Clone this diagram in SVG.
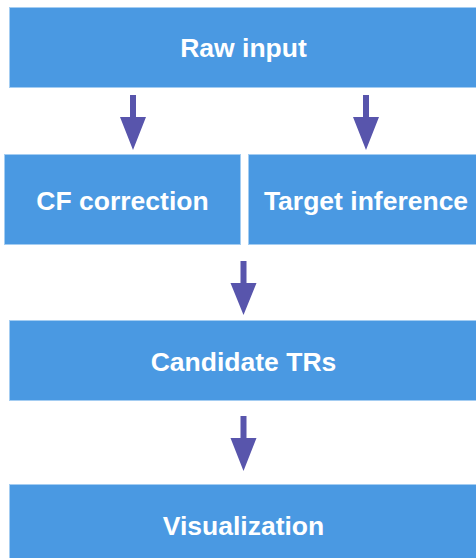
<svg xmlns="http://www.w3.org/2000/svg" width="476" height="558" viewBox="0 0 476 558">
<style>
.box{fill:#4A99E2;stroke:#A4CDF2;stroke-width:1}
.lbl{font-family:"Liberation Sans",Arial,sans-serif;font-weight:bold;font-size:26.5px;fill:#FFFFFF;text-anchor:middle}
.arr{fill:#5855AC}
</style>
<rect width="476" height="558" fill="#FFFFFF"/>
<g id="connectors">
<polygon class="arr" points="130,95 136,95 136,117 146,117 133,150 120,117 130,117"/>
<polygon class="arr" points="363,95 369,95 369,117 379,117 366,150 353,117 363,117"/>
<polygon class="arr" points="240.5,261 246.5,261 246.5,283 256.5,283 243.5,315 230.5,283 240.5,283"/>
<polygon class="arr" points="240.5,416 246.5,416 246.5,438 256.5,438 243.5,471 230.5,438 240.5,438"/>
</g>
<g id="raw-input">
<rect class="box" x="9.5" y="7.5" width="470" height="80"/>
<text class="lbl" x="243.5" y="57">Raw input</text>
</g>
<g id="cf-correction">
<rect class="box" x="4.5" y="154.5" width="236" height="90"/>
<text class="lbl" x="122.5" y="210">CF correction</text>
</g>
<g id="target-inference">
<rect class="box" x="248.5" y="154.5" width="236" height="90"/>
<text class="lbl" x="366" y="210">Target inference</text>
</g>
<g id="candidate-trs">
<rect class="box" x="9.5" y="320.5" width="470" height="80"/>
<text class="lbl" x="243.5" y="370.5">Candidate TRs</text>
</g>
<g id="visualization">
<rect class="box" x="9.5" y="484.5" width="470" height="80"/>
<text class="lbl" x="243.5" y="535">Visualization</text>
</g>
</svg>
